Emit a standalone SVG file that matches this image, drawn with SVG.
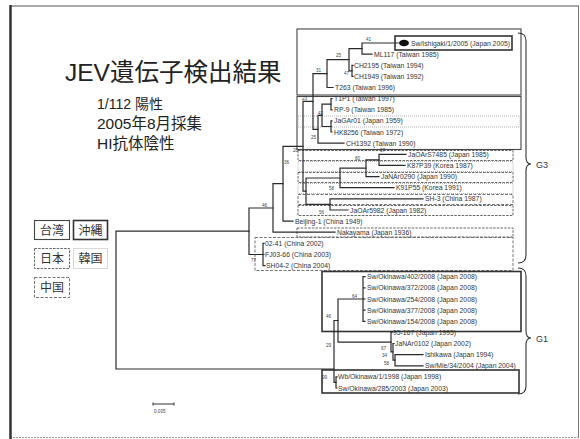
<svg xmlns="http://www.w3.org/2000/svg" width="580" height="439" viewBox="0 0 580 439">
<style>
.br{stroke:#2a2a2a;stroke-width:1.2;fill:none;stroke-linecap:square}
.lf{font-family:"Liberation Sans",Arial,sans-serif;font-size:6.8px;fill:#333}
.bs{font-family:"Liberation Sans",Arial,sans-serif;font-size:4.6px;fill:#444}
.bx{fill:none}
.tw{stroke:#444;stroke-width:1.1}
.ok{stroke:#333;stroke-width:1.6}
.jp{stroke:#555;stroke-width:0.9;stroke-dasharray:2.5 1.2}
.kr{stroke:#aaa;stroke-width:0.9;stroke-dasharray:1 1}
.cn{stroke:#666;stroke-width:0.9;stroke-dasharray:3 1.5}
.jt{font-family:"Liberation Sans","Noto Sans CJK JP",sans-serif;fill:#222}
.lg{font-family:"Noto Sans CJK JP",sans-serif;font-size:12px;fill:#333;text-anchor:middle}
.gl{font-family:"Liberation Sans",Arial,sans-serif;font-size:9px;fill:#333}
</style>
<rect width="580" height="439" fill="#fff"/>
<!-- frame -->
<g id="frame">
<line x1="10" y1="6" x2="579" y2="6" stroke="#555" stroke-width="1.2"/>
<line x1="578.5" y1="6" x2="578.5" y2="437" stroke="#777" stroke-width="1"/>
<line x1="10" y1="437.5" x2="579" y2="437.5" stroke="#999" stroke-width="1" stroke-dasharray="2 1"/>
<line x1="10.5" y1="5" x2="10.5" y2="439" stroke="#333" stroke-width="2.5"/>
</g>
<!-- title -->
<g id="title">
<text class="jt" x="65" y="81" font-size="24.5">JEV遺伝子検出結果</text>
<text class="jt" x="97" y="109" font-size="14">1/112  陽性</text>
<text class="jt" x="97" y="129" font-size="15.5">2005年8月採集</text>
<text class="jt" x="97" y="149" font-size="15.5">HI抗体陰性</text>
</g>
<!-- legend -->
<g id="legend-taiwan"><rect class="bx tw" x="34.5" y="220.5" width="35" height="19"/><text class="lg" x="52" y="235">台湾</text></g>
<g id="legend-okinawa"><rect class="bx ok" x="73.5" y="220.5" width="34" height="19"/><text class="lg" x="90.5" y="235">沖縄</text></g>
<g id="legend-japan"><rect class="bx jp" x="34.5" y="248.5" width="35" height="20"/><text class="lg" x="52" y="263">日本</text></g>
<g id="legend-korea"><rect class="bx kr" x="73.5" y="248.5" width="34" height="20"/><text class="lg" x="90.5" y="263">韓国</text></g>
<g id="legend-china"><rect class="bx cn" x="34.5" y="277.5" width="35" height="20"/><text class="lg" x="52" y="292">中国</text></g>
<!-- group boxes -->
<g id="boxes">
<rect class="bx tw" x="297" y="29" width="224" height="66"/>
<rect class="bx tw" x="297" y="96.5" width="224" height="53"/>
<rect class="bx kr" x="298" y="116" width="222" height="11"/>
<rect class="bx jp" x="298" y="150.5" width="215" height="10"/>
<rect class="bx kr" x="298" y="161.5" width="215" height="10"/>
<rect class="bx jp" x="298" y="172.5" width="215" height="10"/>
<rect class="bx kr" x="298" y="183.5" width="215" height="10"/>
<rect class="bx cn" x="298" y="194.5" width="215" height="10"/>
<rect class="bx jp" x="298" y="205.5" width="215" height="10"/>
<rect class="bx jp" x="297" y="228" width="216" height="9"/>
<rect class="bx cn" x="255" y="237.5" width="258" height="33"/>
<rect class="bx ok" x="322" y="271.5" width="199" height="60"/>
<rect class="bx ok" x="322" y="370" width="197" height="23"/>
<rect class="bx ok" x="395" y="36" width="117" height="14"/>
</g>
<!-- braces -->
<g id="braces" fill="none" stroke="#333" stroke-width="1.1">
<path d="M518,33 Q526,33 526,41 L526,157 Q526,164 531,164 Q526,164 526,171 L526,255 Q526,263 518,263"/>
<path d="M518,268 Q526,268 526,276 L526,331 Q526,338 531,338 Q526,338 526,345 L526,386 Q526,394 518,394"/>
</g>
<text class="gl" x="536" y="168">G3</text>
<text class="gl" x="536" y="342">G1</text>
<!-- tree connectors -->
<g id="connectors" class="br">
<!-- root -->
<path d="M116,231.2 V369 M116,231.2 H249 M116,369 H334"/>
<path d="M249,208 V254.5 M249,208 H273 M249,254.5 H263"/>
<!-- China -->
<path d="M263,243.3 V265.6 M263,243.3 H264 M263,254.5 H264 M263,265.6 H265"/>
<!-- N46 -->
<path d="M273,183.7 V232.2 M273,232.2 H335 M273,183.7 H283"/>
<!-- N36 -->
<path d="M283,146.3 V221.1 M283,221.1 H293 M283,146.3 H303"/>
<!-- N20 -->
<path d="M303,101.4 V191.2 M303,101.4 H313 M303,191.2 H306"/>
<!-- N23 -->
<path d="M313,73.6 V129.3 M313,73.6 H327 M313,129.3 H318"/>
<!-- N31 -->
<path d="M327,59.7 V87.5 M327,87.5 H333 M327,59.7 H349"/>
<!-- N25a -->
<path d="M349,48.6 V70.9 M349,48.6 H362 M349,70.9 H352"/>
<path d="M362,43 V54.1 M362,43 H398 M362,54.1 H372"/>
<path d="M352,65.3 V76.4 M352,65.3 H353 M352,76.4 H353"/>
<!-- N25b -->
<path d="M318,115.4 V143.2 M318,143.2 H344 M318,115.4 H322"/>
<path d="M322,104.2 V126.5 M322,104.2 H331 M322,126.5 H331"/>
<path d="M331,98.7 V109.8 M331,98.7 H332 M331,109.8 H332"/>
<path d="M331,120.9 V132 M331,120.9 H332 M331,132 H332"/>
<!-- NX -->
<path d="M306,178 V204.4 M306,178 H340 M306,204.4 H330"/>
<path d="M340,168.2 V187.7 M340,187.7 H394 M340,168.2 H366"/>
<path d="M366,159.9 V176.6 M366,176.6 H379 M366,159.9 H379"/>
<path d="M379,154.3 V165.4 M379,154.3 H406 M379,165.4 H405"/>
<path d="M330,198.8 V210 M330,198.8 H423 M330,210 H348"/>
<!-- G1 -->
<path d="M334,320.5 V382.4 M334,320.5 H338 M334,382.4 H336"/>
<path d="M336,376.9 V388 M336,376.9 H337 M336,388 H337"/>
<path d="M338,299 V342.1 M338,299 H363 M338,342.1 H391"/>
<path d="M363,276.7 V321.3 M363,276.7 H365 M363,287.9 H365 M363,299 H365 M363,310.1 H365 M363,321.3 H365"/>
<path d="M391,332.4 V351.8 M391,332.4 H392 M391,351.8 H393"/>
<path d="M393,343.5 V360.2 M393,343.5 H394 M393,360.2 H395"/>
<path d="M395,354.6 V365.8 M395,354.6 H423 M395,365.8 H423"/>
</g>
<!-- scale bar -->
<g id="scale">
<path d="M153,404 H174 M153,402.5 V405.5 M174,402.5 V405.5" stroke="#333" stroke-width="1" fill="none"/>
<text class="bs" x="154" y="413">0.005</text>
</g>
<!-- bootstrap values -->
<g id="bootstrap">
<text class="bs" x="366" y="41">41</text>
<text class="bs" x="336" y="57">25</text>
<text class="bs" x="344" y="75">47</text>
<text class="bs" x="316" y="72">31</text>
<text class="bs" x="302" y="100">23</text>
<text class="bs" x="318" y="115">42</text>
<text class="bs" x="311" y="139">25</text>
<text class="bs" x="293" y="152">20</text>
<text class="bs" x="380" y="152">67</text>
<text class="bs" x="355" y="160">80</text>
<text class="bs" x="329" y="190">58</text>
<text class="bs" x="319" y="214">56</text>
<text class="bs" x="284" y="164">36</text>
<text class="bs" x="262" y="207">46</text>
<text class="bs" x="251" y="262">77</text>
<text class="bs" x="352" y="298">64</text>
<text class="bs" x="326" y="318">46</text>
<text class="bs" x="326" y="347">29</text>
<text class="bs" x="381" y="350">67</text>
<text class="bs" x="382" y="357">34</text>
<text class="bs" x="384" y="365">58</text>
<text class="bs" x="322" y="379">99</text>
</g>
<!-- leaves -->
<g id="leaf-swishigaki"><ellipse cx="404" cy="43" rx="5" ry="3.3" fill="#111"/><text class="lf" x="411" y="45.5">Sw/Ishigaki/1/2005 (Japan 2005)</text></g>
<g id="leaf-ml117"><text class="lf" x="374" y="56.6">ML117 (Taiwan 1985)</text></g>
<g id="leaf-ch2195"><text class="lf" x="354" y="67.8">CH2195 (Taiwan 1994)</text></g>
<g id="leaf-ch1949"><text class="lf" x="354" y="78.9">CH1949 (Taiwan 1992)</text></g>
<g id="leaf-t263"><text class="lf" x="335" y="90">T263 (Taiwan 1996)</text></g>
<g id="leaf-t1p1"><text class="lf" x="334" y="101.2">T1P1 (Taiwan 1997)</text></g>
<g id="leaf-rp9"><text class="lf" x="334" y="112.3">RP-9 (Taiwan 1985)</text></g>
<g id="leaf-jagar01"><text class="lf" x="334" y="123.4">JaGAr01 (Japan 1959)</text></g>
<g id="leaf-hk8256"><text class="lf" x="334" y="134.5">HK8256 (Taiwan 1972)</text></g>
<g id="leaf-ch1392"><text class="lf" x="346" y="145.7">CH1392 (Taiwan 1990)</text></g>
<g id="leaf-jaoars7485"><text class="lf" x="408" y="156.8">JaOArS7485 (Japan 1985)</text></g>
<g id="leaf-k87p39"><text class="lf" x="407" y="167.9">K87P39 (Korea 1987)</text></g>
<g id="leaf-janar0290"><text class="lf" x="381" y="179.1">JaNAr0290 (Japan 1990)</text></g>
<g id="leaf-k91p55"><text class="lf" x="396" y="190.2">K91P55 (Korea 1991)</text></g>
<g id="leaf-sh3"><text class="lf" x="425" y="201.3">SH-3 (China 1987)</text></g>
<g id="leaf-jaoar5982"><text class="lf" x="350" y="212.5">JaOAr5982 (Japan 1982)</text></g>
<g id="leaf-beijing1"><text class="lf" x="295" y="223.6">Beijing-1 (China 1949)</text></g>
<g id="leaf-nakayama"><text class="lf" x="337" y="234.7">Nakayama (Japan 1936)</text></g>
<g id="leaf-0241"><text class="lf" x="265" y="245.8">02-41 (China 2002)</text></g>
<g id="leaf-fj0366"><text class="lf" x="265" y="257">FJ03-66 (China 2003)</text></g>
<g id="leaf-sh042"><text class="lf" x="266" y="268.1">SH04-2 (China 2004)</text></g>
<g id="leaf-ok402"><text class="lf" x="367" y="279.2">Sw/Okinawa/402/2008 (Japan 2008)</text></g>
<g id="leaf-ok372"><text class="lf" x="367" y="290.4">Sw/Okinawa/372/2008 (Japan 2008)</text></g>
<g id="leaf-ok254"><text class="lf" x="367" y="301.5">Sw/Okinawa/254/2008 (Japan 2008)</text></g>
<g id="leaf-ok377"><text class="lf" x="367" y="312.6">Sw/Okinawa/377/2008 (Japan 2008)</text></g>
<g id="leaf-ok154"><text class="lf" x="367" y="323.8">Sw/Okinawa/154/2008 (Japan 2008)</text></g>
<g id="leaf-95167"><text class="lf" x="393" y="334.9">95-167 (Japan 1995)</text></g>
<g id="leaf-janar0102"><text class="lf" x="395" y="346">JaNAr0102 (Japan 2002)</text></g>
<g id="leaf-ishikawa"><text class="lf" x="425" y="357.1">Ishikawa (Japan 1994)</text></g>
<g id="leaf-swmie"><text class="lf" x="425" y="368.3">Sw/Mie/34/2004 (Japan 2004)</text></g>
<g id="leaf-wbokinawa"><text class="lf" x="338" y="379.4">Wb/Okinawa/1/1998 (Japan 1998)</text></g>
<g id="leaf-swok285"><text class="lf" x="338" y="390.5">Sw/Okinawa/285/2003 (Japan 2003)</text></g>
</svg>
